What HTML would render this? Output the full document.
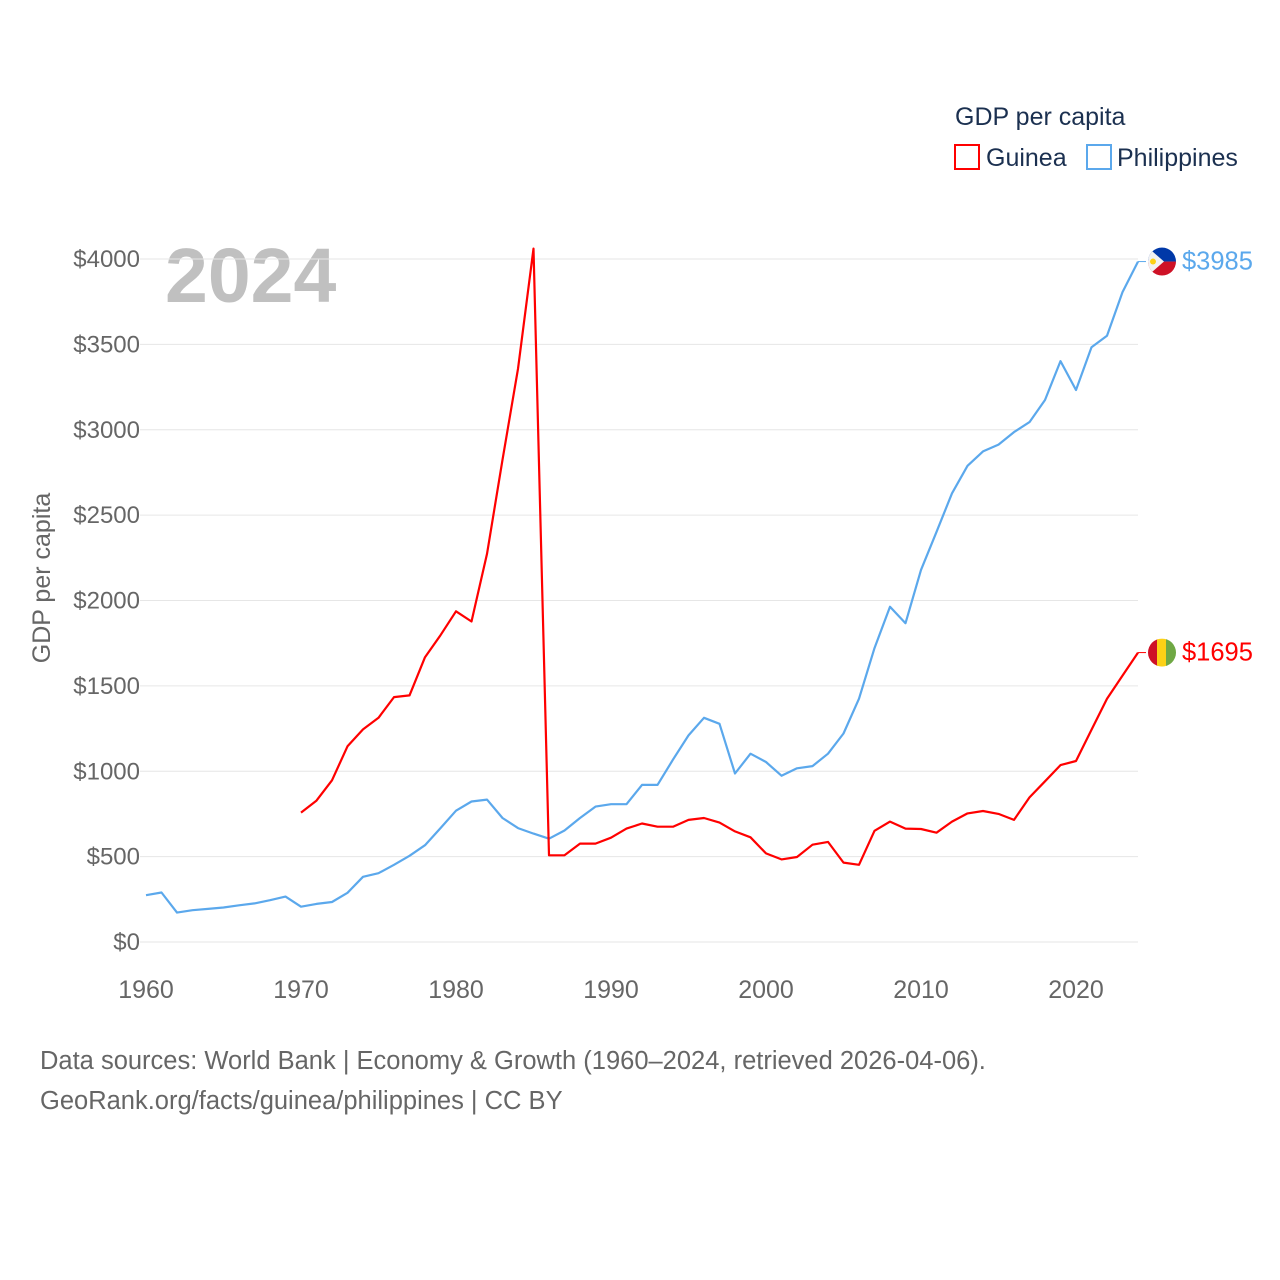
<!DOCTYPE html>
<html><head><meta charset="utf-8">
<style>
body{margin:0;background:#fff;}
svg{display:block;font-family:"Liberation Sans",sans-serif;}
</style></head>
<body>
<svg id="chart" width="1280" height="1280" xmlns="http://www.w3.org/2000/svg">
  <text x="955" y="125" font-size="25" fill="#1b3050">GDP per capita</text>
  <g>
    <rect x="955" y="145" width="24" height="24" fill="none" stroke="#ff0000" stroke-width="2"/>
    <text x="986" y="166" font-size="25" fill="#1b3050">Guinea</text>
  </g>
  <g>
    <rect x="1087" y="145" width="24" height="24" fill="none" stroke="#5ba8ec" stroke-width="2"/>
    <text x="1117" y="166" font-size="25" fill="#1b3050">Philippines</text>
  </g>
  <text x="165" y="302" font-size="77" font-weight="bold" fill="#c0c0c0">2024</text>
  <g id="grid"></g>
  <g id="yticks"></g>
  <g id="xticks"></g>
  <text transform="translate(50,578) rotate(-90)" text-anchor="middle" font-size="25" fill="#666">GDP per capita</text>
  <g id="series"></g>
  <text x="40" y="1069" font-size="25.5" fill="#666">Data sources: World Bank | Economy &amp; Growth (1960–2024, retrieved 2026-04-06).</text>
  <text x="40" y="1109" font-size="25.5" fill="#666">GeoRank.org/facts/guinea/philippines | CC BY</text>
</svg>
<script>
const yTicks=[0,500,1000,1500,2000,2500,3000,3500,4000];
const xTicks=[1960,1970,1980,1990,2000,2010,2020];
const phYears=[];for(let y=1960;y<=2024;y++)phYears.push(y);
const phValues=[274,290,172,186,194,202,215,226,245,266,207,223,234,288,382,403,452,505,567,667,769,823,834,726,667,635,605,653,726,793,807,807,920,920,1068,1210,1313,1278,987,1103,1054,974,1017,1030,1103,1221,1425,1721,1963,1867,2179,2402,2628,2789,2873,2913,2986,3045,3174,3402,3233,3483,3550,3806,3985];
const gnYears=[];for(let y=1970;y<=2024;y++)gnYears.push(y);
const gnValues=[758,828,947,1146,1245,1313,1434,1444,1668,1797,1937,1877,2273,2824,3357,4061,508,508,576,576,611,664,694,675,675,715,726,699,648,613,519,484,498,570,586,465,452,651,705,664,662,640,705,753,767,750,715,847,941,1036,1060,1243,1425,1560,1695];
const NS='http://www.w3.org/2000/svg';
const xs=y=>146+(y-1960)*15.5;
const ys=v=>942-v*0.17075;
function mk(t,a,p){const e=document.createElementNS(NS,t);for(const k in a)e.setAttribute(k,a[k]);p.appendChild(e);return e;}
const grid=document.getElementById('grid'),yt=document.getElementById('yticks'),xt=document.getElementById('xticks'),se=document.getElementById('series');
yTicks.forEach(v=>{
  const l=mk('line',{x1:140,x2:1138,y1:ys(v),y2:ys(v),stroke:'#e6e6e6','stroke-width':1},grid);
  
  
  const t=mk('text',{x:140,y:ys(v)+8,'text-anchor':'end','font-size':24,fill:'#666'},yt);
  t.textContent='$'+v;
  
  
});
xTicks.forEach(y=>{
  const t=mk('text',{x:xs(y),y:998,'text-anchor':'middle','font-size':25,fill:'#666'},xt);
  t.textContent=y;
  
  
});
function line(years,vals,color,name){
  const d=years.map((y,i)=>(i?'L':'M')+xs(y).toFixed(1)+' '+ys(vals[i]).toFixed(1)).join(' ');
  const p=mk('path',{d:d,fill:'none',stroke:color,'stroke-width':2.2,'stroke-linejoin':'round'},se);
  
  
  const ly=ys(vals[vals.length-1]), lx=xs(years[years.length-1]);
  mk('line',{x1:lx,x2:lx+8,y1:ly,y2:ly,stroke:color,'stroke-width':1},se);
  const t=mk('text',{x:1182,y:ly+8,'font-size':25.5,fill:color},se);
  t.textContent='$'+vals[vals.length-1];
  
  
  return ly;
}
const pY=line(phYears,phValues,'#5ba8ec','philippines-line');
const gY=line(gnYears,gnValues,'#ff0000','guinea-line');
const pf=mk('g',{},se);


const cp1=mk('clipPath',{id:'cp1'},pf);mk('circle',{cx:1162,cy:pY,r:14},cp1);
const g1=mk('g',{'clip-path':'url(#cp1)'},pf);
mk('rect',{x:1148,y:pY-14,width:28,height:14,fill:'#0038a8'},g1);
mk('rect',{x:1148,y:pY,width:28,height:14,fill:'#ce1126'},g1);
mk('polygon',{points:`1148,${pY-14} 1164,${pY} 1148,${pY+14}`,fill:'#f2f2f2'},g1);
mk('circle',{cx:1153,cy:pY,r:3,fill:'#fcd116'},g1);
const gf=mk('g',{},se);


const cp2=mk('clipPath',{id:'cp2'},gf);mk('circle',{cx:1162,cy:gY,r:14},cp2);
const g2=mk('g',{'clip-path':'url(#cp2)'},gf);
mk('rect',{x:1148,y:gY-14,width:10,height:28,fill:'#ce1126'},g2);
mk('rect',{x:1157,y:gY-14,width:10,height:28,fill:'#fcd116'},g2);
mk('rect',{x:1166,y:gY-14,width:10,height:28,fill:'#6fa844'},g2);
</script>
</body></html>
